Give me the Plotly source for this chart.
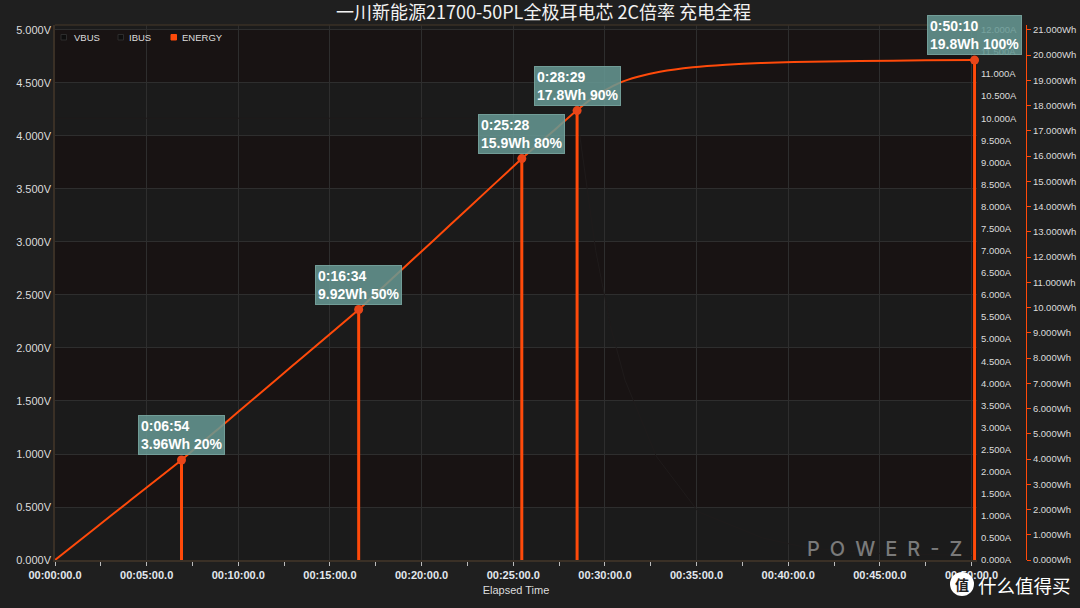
import plotly.graph_objects as go

# ---------------- data ----------------
title_text = "一川新能源21700-50PL全极耳电芯 2C倍率 充电全程"

# Energy curve: elapsed minutes vs Wh
energy_t = [0, 2.0, 4.0, 6.9, 9.0, 11.0, 13.0, 16.57, 18.5, 20.5, 22.5, 25.47, 27.0,
            28.49, 29.0, 29.5, 30.0, 30.8, 31.8, 33.0, 34.8, 36.6, 38.5, 40.3, 43.9, 47.5, 50.17]
energy_wh = [0, 1.15, 2.30, 3.96, 5.25, 6.49, 7.72, 9.92, 11.22, 12.56, 13.90, 15.90, 16.87,
             17.82, 18.12, 18.38, 18.60, 18.90, 19.14, 19.34, 19.52, 19.62, 19.68, 19.72, 19.76, 19.79, 19.80]

# IBUS (barely visible, dimmed series)
ibus_t = [0, 28.5, 29.5, 30.3, 31.1, 32.8, 35.1, 38.6, 41.1, 45.0, 50.17]
ibus_a = [10.0, 10.0, 7.0, 5.3, 4.07, 2.35, 1.09, 0.50, 0.27, 0.15, 0.10]

# Marked points
mark_time = ["0:06:54", "0:16:34", "0:25:28", "0:28:29", "0:50:10"]
mark_wh = [3.96, 9.92, 15.9, 17.8, 19.8]
mark_pct = ["20%", "50%", "80%", "90%", "100%"]

x_tick_min = [0, 5, 10, 15, 20, 25, 30, 35, 40, 45, 50]
x_tick_text = ["00:%02d:00.0" % m for m in x_tick_min]
legend_names = ["VBUS", "IBUS", "ENERGY"]

# ---------------- layout geometry ----------------
W, H = 1080, 608
L, R, T, B = 55, 48, 25, 48
PW, PH = W - L - R, H - T - B


def px_x(px):
    return (px - L) / PW


def px_y(py):
    return (H - B - py) / PH


def to_min(s):
    h, m, sec = [int(v) for v in s.split(":")]
    return h * 60 + m + sec / 60.0


mark_t = [to_min(s) for s in mark_time]

ORANGE = "#ff4a0a"
TXT = "#dcdcdc"
FONT = "Liberation Sans, Arial, sans-serif"

fig = go.Figure()

fig.add_trace(go.Scatter(x=ibus_t, y=ibus_a, yaxis="y2", mode="lines",
                         line=dict(color="#1f1b1b", width=1), showlegend=False,
                         hoverinfo="skip"))

fig.add_trace(go.Scatter(x=energy_t, y=energy_wh, yaxis="y3", mode="lines",
                         line=dict(color=ORANGE, width=2, shape="spline", smoothing=0.5),
                         showlegend=False))

vx, vy = [], []
for t, e in zip(mark_t, mark_wh):
    vx += [t, t, None]
    vy += [0, e, None]
fig.add_trace(go.Scatter(x=vx, y=vy, yaxis="y3", mode="lines",
                         line=dict(color=ORANGE, width=3), showlegend=False))
fig.add_trace(go.Scatter(x=mark_t, y=mark_wh, yaxis="y3", mode="markers",
                         marker=dict(color="#e8461a", size=9), showlegend=False,
                         cliponaxis=False))

# ---------------- shapes ----------------
shapes = []
# alternating bands between voltage gridlines
for i in range(10):
    y0 = i * 0.5
    col = "#181313" if i % 2 == 1 else "#1b1b1b"
    shapes.append(dict(type="rect", xref="x domain", yref="y", x0=0, x1=1, y0=y0, y1=y0 + 0.5,
                       fillcolor=col, line=dict(width=0), layer="below"))
# top border
shapes.append(dict(type="line", xref="x domain", yref="y domain", x0=0, x1=1, y0=1, y1=1,
                   line=dict(color="#3a3026", width=1.5)))

# legend squares
sq_x = [61, 118, 171]
sq_col = [("#0e0e0e", "#2c2c2c"), ("#0e0e0e", "#2c2c2c"), (ORANGE, ORANGE)]
for x0, (fc, lc) in zip(sq_x, sq_col):
    shapes.append(dict(type="rect", xref="paper", yref="paper",
                       x0=px_x(x0), x1=px_x(x0 + 5.5), y0=px_y(34.5), y1=px_y(40),
                       fillcolor=fc, line=dict(color=lc, width=1)))

# logo circle
shapes.append(dict(type="circle", xref="paper", yref="paper",
                   x0=px_x(950), x1=px_x(974), y0=px_y(596), y1=px_y(572),
                   fillcolor="#ffffff", line=dict(width=0)))

# ---------------- annotations ----------------
annos = []
for t, e, ts, p in zip(mark_t, mark_wh, mark_time, mark_pct):
    annos.append(dict(x=t, y=e, xref="x", yref="y3", showarrow=False,
                      xanchor="center", yanchor="bottom", yshift=5,
                      text="%s<br>%sWh %s" % (ts, format(e, ".3g"), p),
                      align="left", bgcolor="rgba(102,152,148,0.86)",
                      bordercolor="rgba(120,165,160,0.9)", borderwidth=1, borderpad=2,
                      font=dict(family=FONT, size=14, color="#ffffff", weight="bold")))

leg_x = [72, 127, 180]
for name, lx in zip(legend_names, leg_x):
    annos.append(dict(x=px_x(lx), y=px_y(37), xref="paper", yref="paper", showarrow=False,
                      xanchor="left", yanchor="middle", text=name,
                      font=dict(family=FONT, size=9.5, color=TXT)))

annos.append(dict(x=px_x(884), y=px_y(549), xref="paper", yref="paper", showarrow=False,
                  xanchor="center", yanchor="middle",
                  text="P\u2002O\u2002W\u2002E\u2002R\u2002-\u2002Z",
                  font=dict(family="Inter, DejaVu Sans, sans-serif", size=20, color="#7a7a7a",
                            weight=500)))

annos.append(dict(x=px_x(962), y=px_y(584), xref="paper", yref="paper", showarrow=False,
                  xanchor="center", yanchor="middle", text="值",
                  font=dict(family="Noto Sans CJK SC", size=14, color="#1f1f1f", weight="bold")))
annos.append(dict(x=px_x(976), y=px_y(585), xref="paper", yref="paper", showarrow=False,
                  xanchor="left", yanchor="middle", text="什么值得买",
                  font=dict(family="Noto Sans CJK SC", size=18.5, color="#ffffff")))

# ---------------- layout ----------------
x_end = 50.3
xdom = 922 / PW

fig.update_layout(
    width=W, height=H,
    margin=dict(l=L, r=R, t=T, b=B, pad=0, autoexpand=False),
    paper_bgcolor="#1f1f1f",
    plot_bgcolor="#1b1b1b",
    showlegend=False,
    title=dict(text=title_text, x=0.5, xref="paper", xanchor="center",
               y=1 - 13 / H, yref="container", yanchor="middle",
               font=dict(family="Noto Sans CJK SC", size=18, color="#f2f2f2")),
    xaxis=dict(domain=[0, xdom], range=[0, x_end], automargin=False,
               tickmode="array", tickvals=x_tick_min, ticktext=x_tick_text,
               ticks="outside", ticklen=4, tickcolor="#bbbbbb", tickwidth=1,
               minor=dict(tickvals=[m + 2.5 for m in x_tick_min[:-1]], ticks="outside",
                          ticklen=4, tickcolor="#bbbbbb", showgrid=False),
               showgrid=True, gridcolor="#2e2e2e", gridwidth=1, zeroline=False,
               showline=True, linecolor="#3a3026", linewidth=2,
               tickfont=dict(family=FONT, size=11, color="#e2e8ee", weight="bold"),
               title=dict(text="Elapsed Time", standoff=6,
                          font=dict(family=FONT, size=11, color=TXT))),
    yaxis=dict(range=[0, 5.047], tickmode="linear", tick0=0, dtick=0.5, automargin=False,
               tickformat=".3f", ticksuffix="V", ticks="", showgrid=True,
               gridcolor="#2e2e2e", zeroline=False, showline=True, linecolor="#3a3026",
               linewidth=1.5, tickfont=dict(family=FONT, size=11, color=TXT)),
    yaxis2=dict(overlaying="y", side="right", anchor="x", range=[0, 12.11], automargin=False,
                tickmode="linear", tick0=0, dtick=0.5, tickformat=".3f", ticksuffix="A",
                ticks="", showgrid=False, zeroline=False, showline=False,
                ticklabelstandoff=3,
                tickfont=dict(family=FONT, size=9.5, color=TXT)),
    yaxis3=dict(overlaying="y", side="right", anchor="free", position=px_x(1026),
                automargin=False,
                range=[0, 21.19], tickmode="linear", tick0=0, dtick=1,
                tickformat=".3f", ticksuffix="Wh", ticks="outside", ticklen=4,
                tickcolor=ORANGE, showgrid=False, zeroline=False, showline=True,
                linecolor=ORANGE, linewidth=1,
                tickfont=dict(family=FONT, size=9.5, color=TXT)),
    shapes=shapes,
    annotations=annos,
)

fig.write_html(
    "out.html",
    config={"displayModeBar": False},
    post_script="document.body.style.margin='0';document.body.style.background='#1f1f1f';",
)
